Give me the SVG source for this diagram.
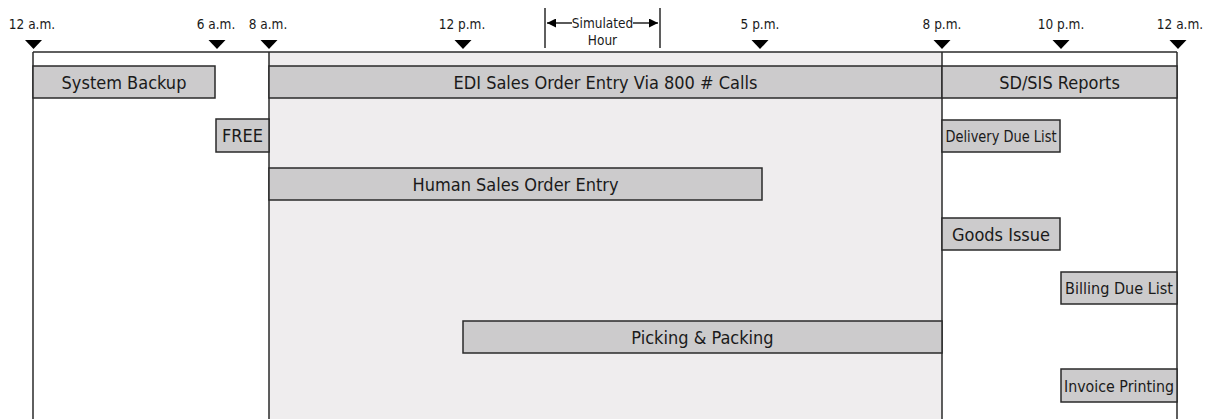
<svg xmlns="http://www.w3.org/2000/svg" width="1208" height="419" viewBox="0 0 1208 419">
  <style>
    .lbl { font-family: "DejaVu Sans Condensed", "DejaVu Sans", "Liberation Sans", sans-serif; font-stretch: condensed; fill: #1a1a1a; text-anchor: middle; }
    .tick { font-size: 13.5px; }
    .big { font-size: 18px; }
    .small { font-size: 15px; }
    .bar { fill: #cccbcc; stroke: #2a2a2a; stroke-width: 1.5; }
    .rule { stroke: #2a2a2a; stroke-width: 1.5; fill: none; }
    .tri { fill: #000; }
  </style>
  <defs>
    <marker id="ah" viewBox="0 0 10 10" refX="10" refY="5" markerWidth="9" markerHeight="9" markerUnits="userSpaceOnUse" orient="auto">
      <path d="M0,0 L10,5 L0,10 z" fill="#000"/>
    </marker>
  </defs>

  <rect width="1208" height="419" fill="#fff"/>

  <!-- daytime shaded band -->
  <rect x="269" y="52" width="673" height="367" fill="#efedee"/>

  <!-- time axis -->
  <g id="axis">
    <line class="rule" x1="33" y1="52" x2="1177" y2="52"/>
    <line class="rule" x1="33" y1="52" x2="33" y2="419"/>
    <line class="rule" x1="269" y1="52" x2="269" y2="419"/>
    <line class="rule" x1="942" y1="52" x2="942" y2="419"/>
    <line class="rule" x1="1177" y1="52" x2="1177" y2="419"/>

    <polygon class="tri" points="25,40 42,40 33.5,49"/>
    <polygon class="tri" points="208.5,40 225.5,40 217,49"/>
    <polygon class="tri" points="260.5,40 277.5,40 269,49"/>
    <polygon class="tri" points="454.5,40 471.5,40 463,49"/>
    <polygon class="tri" points="751.5,40 768.5,40 760,49"/>
    <polygon class="tri" points="933.5,40 950.5,40 942,49"/>
    <polygon class="tri" points="1052.5,40 1069.5,40 1061,49"/>
    <polygon class="tri" points="1169.5,40 1186.5,40 1178,49"/>

    <text class="lbl tick" x="32" y="29">12 a.m.</text>
    <text class="lbl tick" x="216" y="29">6 a.m.</text>
    <text class="lbl tick" x="268" y="29">8 a.m.</text>
    <text class="lbl tick" x="462" y="29">12 p.m.</text>
    <text class="lbl tick" x="760" y="29">5 p.m.</text>
    <text class="lbl tick" x="942" y="29">8 p.m.</text>
    <text class="lbl tick" x="1061" y="29">10 p.m.</text>
    <text class="lbl tick" x="1180" y="29">12 a.m.</text>
  </g>

  <!-- simulated hour span -->
  <g id="simulated-hour">
    <line class="rule" x1="545" y1="8" x2="545" y2="48"/>
    <line class="rule" x1="660" y1="8" x2="660" y2="48"/>
    <text class="lbl tick" x="602.5" y="28">Simulated</text>
    <text class="lbl tick" x="602.5" y="45">Hour</text>
  </g>

  <g id="connectors">
    <line x1="572" y1="23" x2="547" y2="23" stroke="#000" stroke-width="1.3" marker-end="url(#ah)"/>
    <line x1="633" y1="23" x2="658" y2="23" stroke="#000" stroke-width="1.3" marker-end="url(#ah)"/>
  </g>

  <g id="system-backup">
    <rect class="bar" x="33" y="66" width="182" height="32"/>
    <text class="lbl big" x="124" y="89">System Backup</text>
  </g>
  <g id="edi-sales-order-entry">
    <rect class="bar" x="269" y="66" width="673" height="32"/>
    <text class="lbl big" x="605.5" y="89">EDI Sales Order Entry Via 800 # Calls</text>
  </g>
  <g id="sd-sis-reports">
    <rect class="bar" x="942" y="66" width="235" height="32"/>
    <text class="lbl big" x="1059.5" y="89">SD/SIS Reports</text>
  </g>
  <g id="free">
    <rect class="bar" x="216" y="119" width="53" height="33"/>
    <text class="lbl big" x="242.5" y="142">FREE</text>
  </g>
  <g id="delivery-due-list">
    <rect class="bar" x="942" y="120" width="118" height="32"/>
    <text class="lbl small" x="1001" y="142" textLength="111" lengthAdjust="spacingAndGlyphs">Delivery Due List</text>
  </g>
  <g id="human-sales-order-entry">
    <rect class="bar" x="269" y="168" width="493" height="32"/>
    <text class="lbl big" x="515.5" y="191">Human Sales Order Entry</text>
  </g>
  <g id="goods-issue">
    <rect class="bar" x="942" y="218" width="118" height="32"/>
    <text class="lbl big" x="1001" y="241">Goods Issue</text>
  </g>
  <g id="billing-due-list">
    <rect class="bar" x="1061" y="272" width="116" height="32"/>
    <text class="lbl small" x="1119" y="294" textLength="108" lengthAdjust="spacingAndGlyphs">Billing Due List</text>
  </g>
  <g id="picking-packing">
    <rect class="bar" x="463" y="321" width="479" height="32"/>
    <text class="lbl big" x="702.5" y="344">Picking &amp; Packing</text>
  </g>
  <g id="invoice-printing">
    <rect class="bar" x="1061" y="369" width="116" height="33"/>
    <text class="lbl small" x="1119" y="392" textLength="110" lengthAdjust="spacingAndGlyphs">Invoice Printing</text>
  </g>
</svg>
